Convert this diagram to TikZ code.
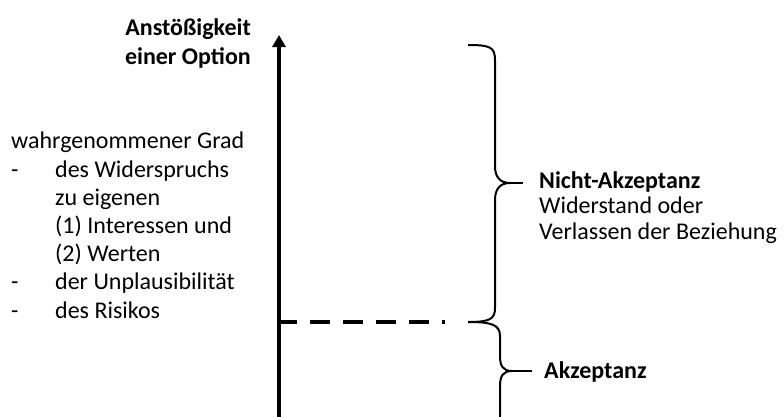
\documentclass[tikz,border=0pt]{standalone}
\usepackage{fontspec}
\setmainfont{Carlito}
\usetikzlibrary{arrows.meta}
\begin{document}
\begin{tikzpicture}[x=1pt,y=-1pt,
  axisline/.style={line width=4pt,-{Triangle[width=13pt,length=12pt]}},
  threshold/.style={line width=4.5pt,dash pattern=on 20pt off 13pt},
  bracestyle/.style={line width=2pt,line join=round},
  lbl/.style={inner sep=0pt,font=\fontsize{24}{28.2}\selectfont,align=left},
  boldlbl/.style={lbl,font=\fontsize{24}{29}\selectfont\bfseries}]
\useasboundingbox (0,0) rectangle (784,416);

% vertical axis
\coordinate (axbot) at (279,420);
\coordinate (axtop) at (279,35);
\draw[axisline] (axbot) -- (axtop);

% threshold between acceptance and rejection
\coordinate (thA) at (277,322);
\coordinate (thB) at (445,322);
\draw[threshold] (thA) -- (thB);

% upper brace (rejection)
\coordinate (ntip) at (523,183);
\draw[bracestyle] (468,45) .. controls (490,45) and (495,47) .. (495,60)
  -- (495,166) .. controls (495,177) and (500,183) .. (510,183)
  .. controls (500,183) and (495,189) .. (495,200)
  -- (495,308) .. controls (495,319) and (490,322) .. (468,322);
\draw[bracestyle] (510,183) -- (ntip);

% lower brace (acceptance)
\coordinate (atip) at (532,371);
\draw[bracestyle] (468,322) .. controls (490,322) and (500,324) .. (500,336)
  -- (500,356) .. controls (500,366) and (503,371) .. (512,371)
  .. controls (503,371) and (500,376) .. (500,386) -- (500,420);
\draw[bracestyle] (512,371) -- (atip);

% axis title (anchored at the baseline of its last line)
\node[boldlbl,anchor=base east,align=right] (title) at (251,64)
  {Anstößigkeit\\einer Option};

% perceived degree of ...
\node[lbl,anchor=base west] (grad) at (11,318)
  {wahrgenommener Grad\\
   \makebox[44pt][l]{-}des Widerspruchs\\
   \hspace*{44pt}zu eigenen\\
   \hspace*{44pt}(1) Interessen und\\
   \hspace*{44pt}(2) Werten\\
   \makebox[44pt][l]{-}der Unplausibilität\\
   \makebox[44pt][l]{-}des Risikos};

% labels at the brace tips
\node[lbl,font=\fontsize{24}{25.5}\selectfont,anchor=base west] (nicht) at (539,239)
  {\textbf{Nicht-Akzeptanz}\\Widerstand oder\\Verlassen der Beziehung};
\node[boldlbl,anchor=base west] (akz) at (544,378) {Akzeptanz};
\end{tikzpicture}
\end{document}
